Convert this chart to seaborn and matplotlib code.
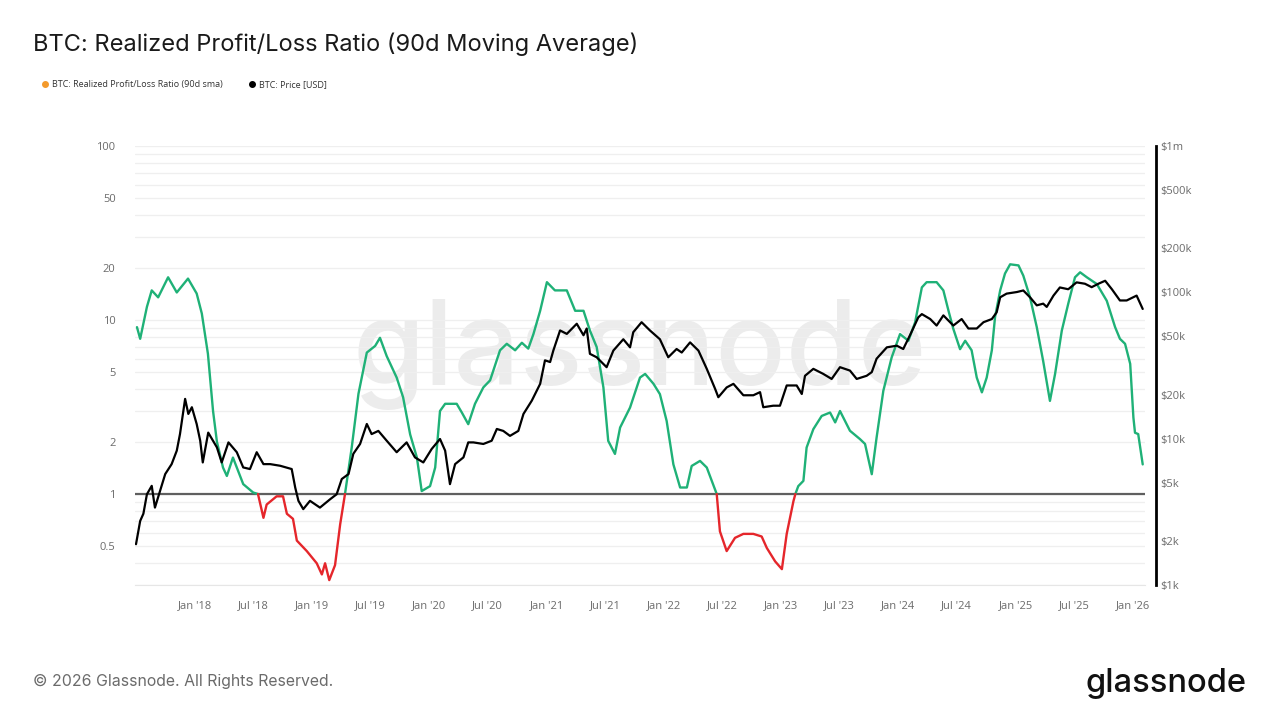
import numpy as np
import pandas as pd
import matplotlib
matplotlib.use("Agg")
import matplotlib.pyplot as plt
import matplotlib.dates as mdates
from matplotlib.lines import Line2D
from matplotlib.ticker import FixedLocator, FixedFormatter, LogLocator, NullFormatter
import seaborn as sns

# ===== DATA =====
RATIO_DATES = [
    "2017-07-04", "2017-07-14", "2017-08-04", "2017-08-19", "2017-09-08", "2017-10-09",
    "2017-11-05", "2017-12-10", "2018-01-06", "2018-01-22", "2018-02-10", "2018-02-26",
    "2018-03-10", "2018-03-29", "2018-04-10", "2018-04-29", "2018-05-31", "2018-07-01",
    "2018-07-16", "2018-08-02", "2018-08-12", "2018-09-12", "2018-10-02", "2018-10-14",
    "2018-11-02", "2018-11-14", "2018-12-15", "2019-01-15", "2019-01-31", "2019-02-10",
    "2019-02-23", "2019-03-13", "2019-03-29", "2019-04-13", "2019-05-04", "2019-05-25",
    "2019-06-20", "2019-07-16", "2019-07-31", "2019-08-21", "2019-09-21", "2019-10-11",
    "2019-11-02", "2019-11-23", "2019-12-08", "2020-01-03", "2020-01-19", "2020-02-03",
    "2020-02-19", "2020-03-26", "2020-04-11", "2020-05-01", "2020-05-22", "2020-06-17",
    "2020-07-08", "2020-08-08", "2020-08-29", "2020-09-24", "2020-10-15", "2020-11-04",
    "2020-11-20", "2020-12-11", "2021-01-01", "2021-01-26", "2021-03-04", "2021-03-30",
    "2021-04-25", "2021-05-15", "2021-06-05", "2021-06-26", "2021-07-11", "2021-08-01",
    "2021-08-17", "2021-09-17", "2021-10-18", "2021-11-03", "2021-11-29", "2021-12-19",
    "2022-01-09", "2022-01-30", "2022-02-20", "2022-03-13", "2022-03-28", "2022-04-23",
    "2022-05-14", "2022-06-14", "2022-06-24", "2022-07-15", "2022-08-10", "2022-09-05",
    "2022-10-06", "2022-11-01", "2022-11-17", "2022-12-13", "2023-01-03", "2023-01-18",
    "2023-02-08", "2023-02-14", "2023-02-23", "2023-03-11", "2023-03-21", "2023-04-11",
    "2023-05-07", "2023-06-02", "2023-06-18", "2023-07-03", "2023-08-03", "2023-09-03",
    "2023-09-19", "2023-10-10", "2023-10-25", "2023-11-15", "2023-12-11", "2024-01-06",
    "2024-02-01", "2024-02-22", "2024-03-14", "2024-03-29", "2024-04-29", "2024-05-20",
    "2024-06-05", "2024-06-20", "2024-07-11", "2024-07-27", "2024-08-16", "2024-09-01",
    "2024-09-17", "2024-10-02", "2024-10-18", "2024-10-28", "2024-11-13", "2024-11-28",
    "2024-12-14", "2025-01-09", "2025-01-24", "2025-02-14", "2025-03-07", "2025-03-27",
    "2025-04-17", "2025-05-03", "2025-05-24", "2025-06-13", "2025-07-04", "2025-07-20",
    "2025-08-10", "2025-09-10", "2025-10-11", "2025-11-06", "2025-11-21", "2025-12-07",
    "2025-12-23", "2026-01-02", "2026-01-07", "2026-01-17", "2026-01-31",
]
RATIO_VALUES = [
    9.1, 7.8, 11.9, 14.8, 13.5, 17.6,
    14.4, 17.3, 14.2, 10.9, 6.4, 3.0,
    2.0, 1.42, 1.27, 1.62, 1.14, 1.02,
    1.0, 0.73, 0.87, 0.97, 0.97, 0.77,
    0.72, 0.54, 0.47, 0.40, 0.345, 0.40,
    0.32, 0.39, 0.67, 1.0, 1.85, 3.77,
    6.5, 7.1, 7.9, 6.2, 4.67, 3.6,
    2.2, 1.62, 1.04, 1.11, 1.42, 3.0,
    3.3, 3.3, 2.94, 2.52, 3.3, 4.1,
    4.5, 6.7, 7.3, 6.7, 7.4, 6.85,
    8.3, 11.3, 16.5, 14.8, 14.8, 11.3,
    11.3, 8.7, 7.0, 4.1, 2.02, 1.70,
    2.41, 3.14, 4.67, 4.9, 4.3, 3.75,
    2.63, 1.48, 1.09, 1.09, 1.45, 1.55,
    1.42, 1.0, 0.61, 0.47, 0.56, 0.59,
    0.59, 0.57, 0.49, 0.41, 0.37, 0.59,
    0.91, 1.0, 1.11, 1.19, 1.85, 2.36,
    2.81, 2.94, 2.58, 3.0, 2.31, 2.07,
    1.94, 1.30, 2.11, 3.92, 6.1, 8.3,
    7.6, 9.7, 15.4, 16.5, 16.5, 14.8,
    11.3, 8.9, 6.8, 7.6, 6.7, 4.67,
    3.84, 4.67, 6.7, 10.4, 14.8, 18.5,
    20.9, 20.6, 18.0, 13.5, 9.1, 5.8,
    3.43, 4.9, 8.7, 12.4, 17.6, 18.8,
    17.6, 16.1, 12.9, 9.1, 7.8, 7.3,
    5.6, 2.75, 2.25, 2.21, 1.48,
]

PRICE_DATES = [
    "2017-07-01", "2017-07-14", "2017-07-24", "2017-08-04", "2017-08-19", "2017-08-29",
    "2017-09-14", "2017-09-30", "2017-10-20", "2017-11-05", "2017-11-15", "2017-12-01",
    "2017-12-11", "2017-12-22", "2018-01-06", "2018-01-17", "2018-01-25", "2018-02-11",
    "2018-03-10", "2018-03-25", "2018-04-15", "2018-05-11", "2018-05-31", "2018-06-21",
    "2018-07-12", "2018-08-02", "2018-08-23", "2018-09-23", "2018-10-29", "2018-11-09",
    "2018-11-19", "2018-12-04", "2018-12-25", "2019-01-25", "2019-02-26", "2019-03-18",
    "2019-04-03", "2019-04-24", "2019-05-09", "2019-05-30", "2019-06-20", "2019-07-05",
    "2019-07-26", "2019-08-21", "2019-09-21", "2019-10-22", "2019-11-17", "2019-12-13",
    "2020-01-08", "2020-02-03", "2020-02-19", "2020-03-05", "2020-03-21", "2020-04-16",
    "2020-05-01", "2020-05-17", "2020-06-17", "2020-07-13", "2020-07-29", "2020-08-18",
    "2020-09-08", "2020-10-04", "2020-10-20", "2020-11-15", "2020-12-11", "2020-12-26",
    "2021-01-11", "2021-01-21", "2021-02-11", "2021-03-04", "2021-04-04", "2021-04-25",
    "2021-05-05", "2021-05-15", "2021-06-05", "2021-07-06", "2021-07-27", "2021-08-27",
    "2021-09-17", "2021-09-27", "2021-10-23", "2021-11-18", "2021-12-19", "2022-01-14",
    "2022-02-09", "2022-02-25", "2022-03-23", "2022-04-18", "2022-05-14", "2022-06-09",
    "2022-06-19", "2022-07-15", "2022-08-05", "2022-09-05", "2022-10-06", "2022-10-27",
    "2022-11-06", "2022-12-07", "2022-12-28", "2023-01-18", "2023-02-18", "2023-03-06",
    "2023-03-16", "2023-04-11", "2023-05-12", "2023-06-07", "2023-07-03", "2023-08-03",
    "2023-08-24", "2023-09-24", "2023-10-10", "2023-10-25", "2023-11-26", "2023-12-27",
    "2024-01-16", "2024-02-06", "2024-03-03", "2024-03-14", "2024-04-09", "2024-04-29",
    "2024-05-20", "2024-06-20", "2024-07-16", "2024-08-06", "2024-09-01", "2024-09-22",
    "2024-10-18", "2024-11-02", "2024-11-13", "2024-12-03", "2025-01-04", "2025-01-24",
    "2025-02-14", "2025-03-07", "2025-03-27", "2025-04-07", "2025-04-28", "2025-05-18",
    "2025-06-13", "2025-07-09", "2025-08-04", "2025-08-25", "2025-09-15", "2025-10-06",
    "2025-10-27", "2025-11-21", "2025-12-12", "2026-01-12", "2026-01-31",
]
PRICE_VALUES = [
    1900, 2740, 3070, 4170, 4760, 3380,
    4400, 5730, 6700, 8280, 10750, 18700,
    14760, 16400, 12600, 9680, 6880, 11000,
    8720, 6880, 9430, 8080, 6360, 6200,
    8080, 6700, 6700, 6530, 6200, 4630,
    3760, 3300, 3760, 3380, 3860, 4170,
    5300, 5730, 7880, 9200, 12600, 10750,
    11300, 9680, 8080, 9430, 7450, 6880,
    8500, 9950, 8280, 4890, 6700, 7450,
    9430, 9430, 9200, 9680, 11650, 11300,
    10450, 11300, 14760, 18200, 23700, 34300,
    33400, 40000, 54900, 52000, 61000, 50900,
    56600, 38000, 36000, 30800, 40000, 47800,
    42100, 53400, 62500, 54900, 47800, 36000,
    41000, 38800, 45500, 40000, 30000, 21900,
    19200, 22400, 23700, 19800, 19800, 20800,
    16400, 16800, 16800, 23100, 23100, 20200,
    26900, 30000, 27700, 25600, 30800, 29200,
    25600, 26900, 28500, 35200, 42100, 43200,
    41000, 50900, 67500, 71000, 65700, 59300,
    69600, 59300, 65700, 56600, 56600, 62500,
    65700, 73000, 92500, 98000, 100500, 103000,
    92500, 81500, 83700, 79500, 95000, 108000,
    105000, 117000, 114500, 108500, 114500, 120000,
    105000, 88000, 88000, 95000, 77000,
]

LEFT_TICKS = [0.5, 1, 2, 5, 10, 20, 50, 100]
LEFT_LABELS = ["0.5", "1", "2", "5", "10", "20", "50", "100"]
RIGHT_TICKS = [1e3, 2e3, 5e3, 1e4, 2e4, 5e4, 1e5, 2e5, 5e5, 1e6]
RIGHT_LABELS = ["$1k", "$2k", "$5k", "$10k", "$20k", "$50k", "$100k", "$200k", "$500k", "$1m"]
X_TICKS = pd.date_range("2018-01-01", "2026-01-01", freq="6MS")

TITLE = "BTC: Realized Profit/Loss Ratio (90d Moving Average)"
LEGEND_LABELS = ["BTC: Realized Profit/Loss Ratio (90d sma)", "BTC: Price [USD]"]

GREEN = "#1fb177"
RED = "#e5262b"
GREY_TXT = "#6b6b6b"

# ===== STYLE =====
sns.set_style("white")
plt.rcParams["font.family"] = ["Open Sans", "DejaVu Sans"]

fig = plt.figure(figsize=(12.8, 7.2), dpi=100)
ax = fig.add_axes([0.1055, 0.1875, 0.789, 0.6097])
ax2 = ax.twinx()

# split ratio into profit (>=1) and loss (<=1) runs
ratio = np.array(RATIO_VALUES)
dates = pd.to_datetime(RATIO_DATES)
rows = []
seg = 0
for kind, mask in (("profit", ratio >= 1), ("loss", ratio <= 1)):
    prev = False
    for d, v, m in zip(dates, ratio, mask):
        if m and not prev:
            seg += 1
        if m:
            rows.append({"date": d, "ratio": v, "kind": kind, "seg": seg})
        prev = m
seg_df = pd.DataFrame(rows)

ax.axhline(1, color="#5f5f5f", linewidth=1.6, zorder=3)
sns.lineplot(data=seg_df, x="date", y="ratio", hue="kind", units="seg",
             estimator=None, sort=False, palette={"profit": GREEN, "loss": RED},
             linewidth=1.7, legend=False, ax=ax, zorder=4)

price_df = pd.DataFrame({"date": pd.to_datetime(PRICE_DATES), "price": PRICE_VALUES})
sns.lineplot(data=price_df, x="date", y="price", color="black", linewidth=1.6, ax=ax2)

# watermark
ax.text(0.5, 0.525, "glassnode", transform=ax.transAxes, fontsize=84,
        color="#ececec", ha="center", va="center", zorder=0,
        family=["Inter", "DejaVu Sans"], fontweight="medium")

# left axis
ax.set_yscale("log")
ax.set_ylim(0.3, 100)
ax.yaxis.set_major_locator(FixedLocator(LEFT_TICKS))
ax.yaxis.set_major_formatter(FixedFormatter(LEFT_LABELS))
ax.yaxis.set_minor_locator(LogLocator(base=10, subs=np.arange(2, 10)))
ax.yaxis.set_minor_formatter(NullFormatter())
ax.grid(axis="y", which="both", color="#efefef", linewidth=0.9, zorder=0)
ax.tick_params(axis="y", which="both", length=0, labelsize=8, labelcolor=GREY_TXT, pad=14)

# right axis
ax2.set_yscale("log")
ax2.set_ylim(1e3, 1e6)
ax2.yaxis.set_major_locator(FixedLocator(RIGHT_TICKS))
ax2.yaxis.set_major_formatter(FixedFormatter(RIGHT_LABELS))
ax2.yaxis.set_minor_formatter(NullFormatter())
ax2.tick_params(axis="y", which="both", length=0, labelsize=8, labelcolor=GREY_TXT, pad=3)
ax2.set_ylabel("")

# x axis
ax.set_xlim(pd.Timestamp("2017-06-28"), pd.Timestamp("2026-02-07"))
ax.xaxis.set_major_locator(FixedLocator(mdates.date2num(X_TICKS)))
ax.xaxis.set_major_formatter(mdates.DateFormatter("%b '%y"))
ax.tick_params(axis="x", length=7, color="#e6e6e6", labelsize=8, labelcolor=GREY_TXT, pad=4)
ax.set_xlabel("")
ax.set_ylabel("")

for s in ("top", "left", "right"):
    ax.spines[s].set_visible(False)
ax.spines["bottom"].set_color("#e6e6e6")
for s in ("top", "left", "bottom"):
    ax2.spines[s].set_visible(False)
ax2.spines["right"].set_position(("outward", 8))
ax2.spines["right"].set_color("black")
ax2.spines["right"].set_linewidth(2)

# title, legend, footer
fig.text(0.026, 0.938, TITLE, fontsize=17, color="#1a1a1a", va="center",
         family=["Inter", "DejaVu Sans"])
handles = [
    Line2D([], [], marker="o", linestyle="", markersize=4, markerfacecolor="#f39a2c",
           markeredgecolor="#f39a2c"),
    Line2D([], [], marker="o", linestyle="", markersize=4, markerfacecolor="black",
           markeredgecolor="black"),
]
fig.legend(handles, LEGEND_LABELS, loc="center left", bbox_to_anchor=(0.025, 0.882),
           ncol=2, frameon=False, fontsize=6.5, handletextpad=0.3, columnspacing=2.7,
           handlelength=1.0, labelcolor="#333333")
fig.text(0.026, 0.053, "\u00a9 2026 Glassnode. All Rights Reserved.", fontsize=11.4,
         color=GREY_TXT, va="center", family=["Inter", "DejaVu Sans"])
fig.text(0.974, 0.051, "glassnode", fontsize=23.5, color="#111111", va="center", ha="right",
         family=["Inter", "DejaVu Sans"], fontweight="medium")

fig.savefig("out.png", dpi=100, facecolor="white")
